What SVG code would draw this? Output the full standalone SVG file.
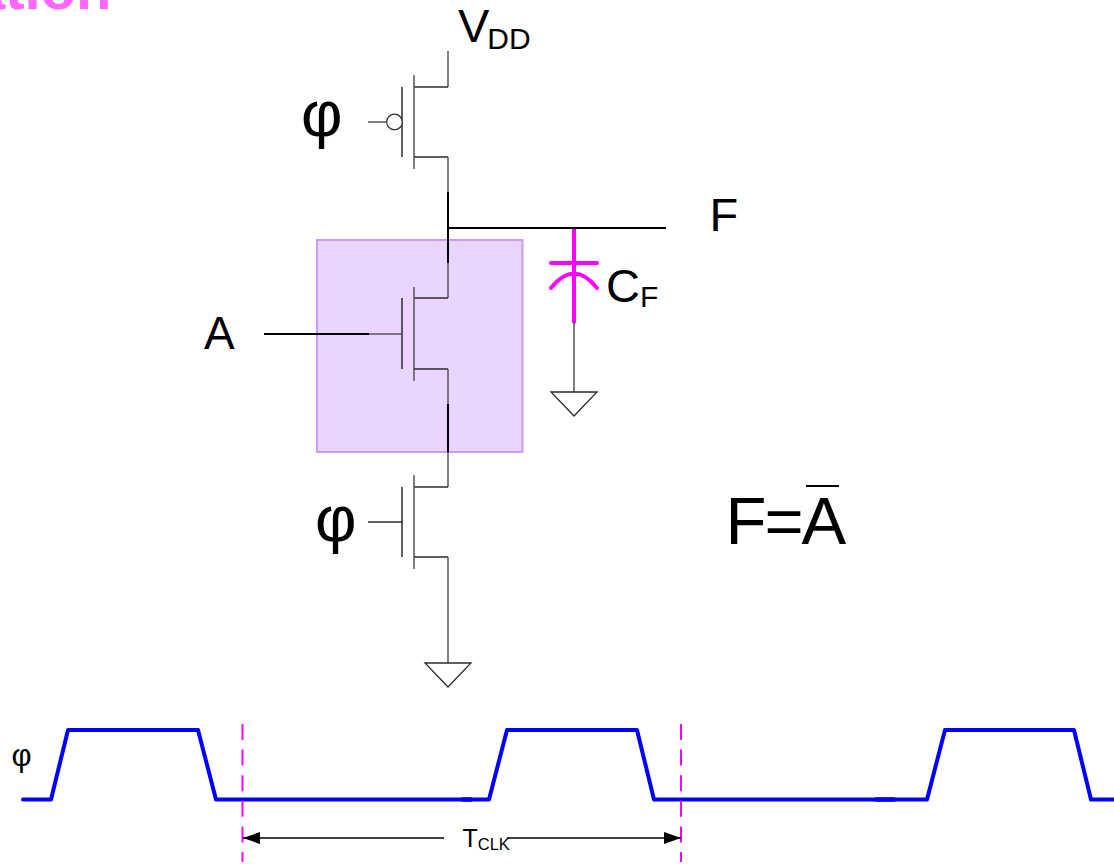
<svg xmlns="http://www.w3.org/2000/svg" width="1114" height="864" viewBox="0 0 1114 864">
<style>
text{font-family:"Liberation Sans",Arial,sans-serif;fill:#000}
.w{fill:none;stroke:#2a2a2a;stroke-width:1.500}
.g{fill:none;stroke:#555;stroke-width:1.500}
.k{fill:none;stroke:#000;stroke-width:2}
.a{fill:none;stroke:#000;stroke-width:1.500}
.c{fill:none;stroke:#f0f;stroke-width:4;stroke-linecap:round}
.wave{fill:none;stroke:#00f;stroke-width:4;stroke-linejoin:round;stroke-linecap:round}
.d{fill:none;stroke:#f0f;stroke-width:2;stroke-dasharray:16 9.600}
</style>
<defs>
<marker id="ah" markerUnits="userSpaceOnUse" markerWidth="18" markerHeight="12" refX="17" refY="6" orient="auto-start-reverse"><path d="M0 0L17 6L0 12Z" fill="#000"/></marker>
</defs>
<text x="-27" y="9" font-size="58" font-weight="700" style="fill:#ff66ff">ation</text>
<g id="region"><rect x="317" y="240" width="205.500" height="212" fill="#e9d5ff" stroke="#c99bff" stroke-width="2"/></g>
<g id="pmos-clock">
<path class="g" d="M448 51V87"/><path class="w" d="M414 87H448"/><path class="g" d="M414 75V169"/><path class="w" d="M402 87V157"/><path class="w" d="M414 157H448"/><path class="g" d="M448 157V192"/>
<circle cx="394.500" cy="122" r="7.800" fill="#fff" stroke="#2a2a2a" stroke-width="1.200"/><path class="g" d="M368 122H387"/>
<text x="301" y="136" font-size="64">φ</text>
</g>
<g id="nmos-a">
<path class="g" d="M448 263V298"/><path class="w" d="M414 298H448"/><path class="g" d="M414 287V381"/><path class="w" d="M402 298V369"/><path class="w" d="M414 369H448"/><path class="g" d="M448 369V404"/>
<path class="g" d="M369 334H402"/><path class="k" d="M264 334H369"/>
<text x="204" y="348.500" font-size="46">A</text>
</g>
<g id="nmos-clock">
<path class="g" d="M448 452V487"/><path class="w" d="M414 487H448"/><path class="g" d="M414 475V569"/><path class="w" d="M402 487V557"/><path class="w" d="M414 557H448"/><path class="g" d="M448 557V663"/>
<path class="w" d="M368 522H402"/>
<text x="315" y="541" font-size="64">φ</text>
</g>
<g id="ground-main"><path d="M425 663H471L448 687Z" fill="#fff" stroke="#2a2a2a" stroke-width="1.300"/></g>
<g id="capacitor">
<path class="c" d="M574 229V322M551 263H597M551 288Q574 259 597 288"/>
<path class="g" d="M574 322V392"/>
<path d="M551 392H597L574 416Z" fill="#fff" stroke="#2a2a2a" stroke-width="1.300"/>
<text x="606" y="302" font-size="47">C<tspan font-size="30" dy="5">F</tspan></text>
</g>
<g id="connectors">
<path class="k" d="M448 192V263M448 228H666M448 404V452"/>
</g>
<g id="labels">
<text x="458" y="42" font-size="47">V<tspan font-size="30" dx="-2" dy="7">DD</tspan></text>
<text x="709.500" y="231" font-size="47">F</text>
<text x="725.500" y="543.500" font-size="67" letter-spacing="-2">F=A</text>
<path d="M806 486H839" stroke="#000" stroke-width="2"/>
<text x="11.500" y="766" font-size="31">φ</text>
</g>
<g id="clock">
<path class="wave" d="M23 799.500H51L68 730H198L216 799.500H489L507 730H637L654 799.500H927L945 730H1074L1091 799.500H1114"/>
<path class="wave" style="stroke-width:4.500" d="M463 799.500H471M876 799.500H894"/>
<path class="d" d="M242.500 724V862M681 724V862"/>
<path class="a" d="M243 838H444" marker-start="url(#ah)"/>
<path class="a" d="M507 838H681" marker-end="url(#ah)"/>
<text x="462.500" y="847" font-size="25">T<tspan font-size="16.500" dy="3">CLK</tspan></text>
</g>
</svg>
